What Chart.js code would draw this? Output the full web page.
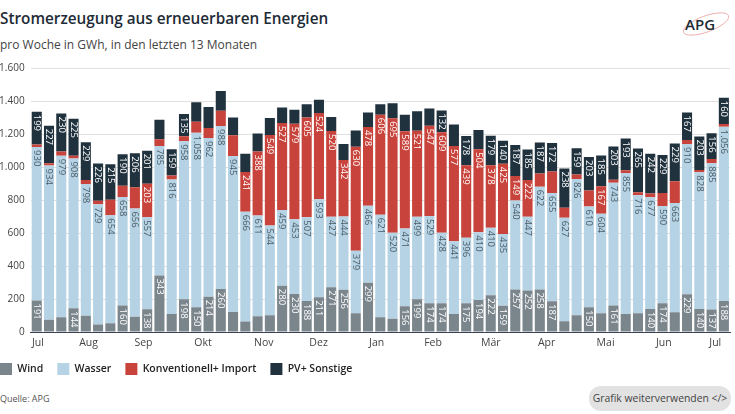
<!DOCTYPE html>
<html lang="de">
<head>
    <meta charset="UTF-8">
    <title>Stromerzeugung aus erneuerbaren Energien</title>
    <style>
        body {
            margin: 0;
            width: 735px;
            height: 414px;
            background: #fff;
            font-family: "Open Sans", Lato, sans-serif;
            position: relative;
            overflow: hidden;
        }
        h1 {
            position: absolute;
            left: 0; top: 8px;
            margin: 0;
            font-size: 15.3px;
            font-weight: 600;
            color: #1d2b36;
        }
        .sub {
            position: absolute;
            left: 0; top: 36px;
            font-size: 12px;
            color: #444;
        }
        .logo { position: absolute; left: 680px; top: 8px; }
        .chart-box {
            position: absolute;
            left: -14px; top: 56px;
            width: 749px; height: 329px;
        }
        .source {
            position: absolute;
            left: 0; top: 392px;
            font-size: 9px;
            color: #555;
        }
        .btn {
            position: absolute;
            left: 589px; top: 386px;
            width: 142px; height: 25px;
            border-radius: 12px;
            background: #e2e2e2;
            color: #444;
            font-size: 10.4px;
            line-height: 25px;
            text-align: center;
            white-space: nowrap;
        }
    </style>
    <script src="https://cdn.jsdelivr.net/npm/chart.js"></script>
</head>
<body>
    <h1>Stromerzeugung aus erneuerbaren Energien</h1>
    <div class="sub">pro Woche in GWh, in den letzten 13 Monaten</div>
    <svg class="logo" width="52" height="30" viewBox="0 0 52 30">
        <ellipse cx="26" cy="16" rx="24" ry="8" fill="none" stroke="#eaa5a5" stroke-width="0.8" transform="rotate(-20 26 16)"/>
        <text x="5" y="22" font-family="Open Sans" font-weight="600" font-size="15" fill="#1d2b36">APG</text>
    </svg>
    <div class="chart-box"><canvas id="chart"></canvas></div>
    <div class="source">Quelle: APG</div>
    <div class="btn">Grafik weiterverwenden &lt;/&gt;</div>

    <script>
        // Wochenwerte in GWh (von links nach rechts)
        const wind = [191, 75, 89, 144, 99, 46, 53, 160, 93, 138,
            343, 109, 198, 150, 214, 260, 121, 63, 95, 101,
            280, 230, 188, 211, 271, 256, 113, 299, 89, 81,
            156, 199, 174, 174, 109, 175, 194, 222, 159, 257,
            252, 258, 187, 65, 101, 150, 113, 161, 109, 113,
            140, 174, 119, 229, 140, 137, 188];
        const wasser = [930, 934, 979, 908, 798, 729, 654, 658, 656, 557,
            785, 816, 958, 1058, 962, 988, 945, 666, 611, 544,
            459, 453, 507, 593, 427, 444, 379, 466, 621, 520,
            471, 499, 529, 428, 441, 396, 410, 410, 435, 540,
            447, 622, 655, 627, 826, 610, 604, 743, 855, 716,
            677, 590, 663, 910, 828, 885, 1056];
        const konventionell = [15, 14, 26, 16, 24, 20, 95, 69, 128, 203,
            40, 24, 30, 67, 61, 93, 127, 241, 388, 549,
            527, 579, 605, 524, 520, 342, 630, 478, 606, 695,
            589, 521, 547, 609, 577, 439, 504, 378, 425, 149,
            222, 81, 131, 61, 28, 97, 167, 18, 16, 18,
            22, 79, 131, 24, 14, 26, 16];
        const pvSonstige = [199, 227, 230, 225, 229, 226, 215, 190, 206, 201,
            119, 159, 135, 117, 127, 119, 107, 111, 109, 103,
            95, 85, 81, 79, 85, 97, 99, 87, 65, 91,
            101, 119, 105, 132, 131, 178, 117, 179, 140, 187,
            185, 187, 172, 238, 159, 203, 185, 203, 193, 265,
            242, 229, 229, 167, 203, 156, 160];

        // Monatsbeschriftung (Position in Wochen)
        const monthLabels = ['Jul', 'Aug', 'Sep', 'Okt', 'Nov', 'Dez', 'Jan', 'Feb', 'Mär', 'Apr', 'Mai', 'Jun', 'Jul'];
        const monthPos = [0.1, 4.22, 8.7, 13.55, 18.5, 22.97, 27.7, 32.3, 37.0, 41.55, 46.36, 51.1, 55.3];
        const yTicks = [0, 200, 400, 600, 800, 1000, 1200, 1400, 1600];

        const toPoints = arr => arr.map((v, i) => ({ x: i, y: v }));

        const series = [
            { label: 'Wind', data: wind, color: '#7b858c', text: '#fff' },
            { label: 'Wasser', data: wasser, color: '#b5d3e4', text: '#4b5b66' },
            { label: 'Konventionell+ Import', data: konventionell, color: '#c8433b', text: '#fff' },
            { label: 'PV+ Sonstige', data: pvSonstige, color: '#21323f', text: '#fff' }
        ];

        // Werte senkrecht in die Segmente schreiben
        const valueLabels = {
            id: 'valueLabels',
            afterDatasetsDraw(chart) {
                const ctx = chart.ctx;
                ctx.save();
                ctx.font = '9.5px "Open Sans"';
                ctx.textAlign = 'left';
                ctx.textBaseline = 'middle';
                chart.data.datasets.forEach((ds, di) => {
                    const meta = chart.getDatasetMeta(di);
                    ctx.fillStyle = series[di].text;
                    meta.data.forEach((bar, i) => {
                        const v = ds.data[i].y;
                        if (v < 132) return;
                        ctx.save();
                        ctx.translate(bar.x, bar.y + 3);
                        ctx.rotate(Math.PI / 2);
                        ctx.fillText(v.toLocaleString('de-DE'), 0, 0);
                        ctx.restore();
                    });
                });
                ctx.restore();
            }
        };

        new Chart(document.getElementById('chart'), {
            type: 'bar',
            data: {
                datasets: series.map(s => ({
                    label: s.label,
                    data: toPoints(s.data),
                    backgroundColor: s.color,
                    borderWidth: 0,
                    categoryPercentage: 1,
                    barPercentage: 0.82
                }))
            },
            options: {
                responsive: true,
                maintainAspectRatio: false,
                animation: false,
                locale: 'de-DE',
                layout: { padding: { left: 0, right: 5 } },
                scales: {
                    x: {
                        type: 'linear',
                        stacked: true,
                        min: -0.5,
                        max: 56.5,
                        offset: false,
                        afterBuildTicks: scale => {
                            scale.ticks = monthPos.map(v => ({ value: v }));
                        },
                        afterFit: scale => { scale.height = 17; },
                        ticks: {
                            callback: (value, index) => monthLabels[index],
                            color: '#444',
                            font: { family: 'Open Sans', size: 10.5 },
                            maxRotation: 0,
                            autoSkip: false,
                            padding: 4.7
                        },
                        grid: { display: false, drawTicks: false },
                        border: { display: true, color: '#3a4352', width: 1 }
                    },
                    y: {
                        stacked: true,
                        min: 0,
                        max: 1600,
                        afterBuildTicks: scale => {
                            scale.ticks = yTicks.map(v => ({ value: v }));
                        },
                        afterFit: scale => { scale.width = 44.6; },
                        ticks: {
                            color: '#444',
                            font: { family: 'Open Sans', size: 10 },
                            padding: 6
                        },
                        grid: { color: '#e0e0e0', drawTicks: false },
                        border: { display: false }
                    }
                },
                plugins: {
                    legend: {
                        position: 'bottom',
                        align: 'start',
                        labels: {
                            boxWidth: 12,
                            boxHeight: 12,
                            color: '#222',
                            padding: 14,
                            font: { family: 'Open Sans', size: 10.5, weight: '600' }
                        }
                    },
                    tooltip: { enabled: false }
                }
            },
            plugins: [valueLabels]
        });
    </script>
</body>
</html>
